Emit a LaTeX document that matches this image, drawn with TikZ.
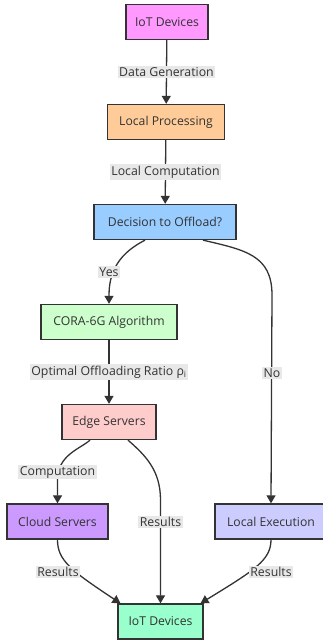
\documentclass[tikz,border=0pt]{standalone}
\usepackage{fontspec}
\setmainfont{Open Sans}
\usetikzlibrary{arrows.meta}
\definecolor{txt}{HTML}{333333}
\definecolor{lblbg}{HTML}{E8E8E8}
\begin{document}
\begin{tikzpicture}[x=1pt,y=1pt,
  box/.style={draw=txt, line width=1.3pt, minimum height=35pt, inner sep=0pt, text=txt, font=\fontsize{12.2}{14}\selectfont},
  lbl/.style={fill=lblbg, text=txt, inner sep=1.5pt, font=\fontsize{12.3}{14}\selectfont},
  arr/.style={draw=txt, line width=1.3pt, -{Triangle[length=8pt,width=9pt]}}]
\useasboundingbox (0,0) rectangle (323,640);
\node[box, fill={rgb,255:red,255;green,153;blue,255}, minimum width=82pt] (iot1) at (167,618) {IoT Devices};
\node[box, fill={rgb,255:red,255;green,204;blue,153}, minimum width=117pt] (lp) at (166,518) {Local Processing};
\node[box, fill={rgb,255:red,153;green,204;blue,255}, minimum width=142pt] (dec) at (165,418) {Decision to Offload?};
\node[box, fill={rgb,255:red,204;green,255;blue,204}, minimum width=136pt] (cora) at (109,318) {CORA-6G Algorithm};
\node[box, fill={rgb,255:red,255;green,204;blue,204}, minimum width=94pt] (edge) at (109,218) {Edge Servers};
\node[box, fill={rgb,255:red,204;green,153;blue,255}, minimum width=101pt] (cloud) at (57.5,118.5) {Cloud Servers};
\node[box, fill={rgb,255:red,204;green,204;blue,255}, minimum width=112pt] (lexe) at (271,118.5) {Local Execution};
\node[box, fill={rgb,255:red,153;green,255;blue,204}, minimum width=85pt] (iot2) at (160.5,18.5) {IoT Devices};

\coordinate (d1) at ([xshift=-20pt]dec.south);
\coordinate (d2) at ([xshift=38pt]dec.south);
\coordinate (e1) at ([xshift=-19pt]edge.south);
\coordinate (e2) at ([xshift=19pt]edge.south);
\coordinate (c1) at ([xshift=-40pt]iot2.north);
\coordinate (c2) at ([xshift=40pt]iot2.north);
\coordinate (k1) at (109,345);
\coordinate (k2) at (272,345);
\coordinate (k3) at (57.5,160);
\coordinate (k4) at (160.5,140);

\draw[arr] (iot1) -- (lp) node[lbl, pos=0.5] (l1) {Data Generation};
\draw[arr] (lp) -- (dec) node[lbl, pos=0.5] (l2) {Local Computation};
\draw[arr] (d1) .. controls (126,390) and (109,375) .. (k1) -- (cora.north);
\node[lbl] (l3) at (109,368) {Yes};
\draw[arr] (cora) -- (edge) node[lbl, pos=0.5] (l4) {Optimal Offloading Ratio ρ\textsubscript{i}};
\draw[arr] (d2) .. controls (245,390) and (272,385) .. (k2) -- (lexe.north);
\node[lbl] (l5) at (272,267) {No};
\draw[arr] (e1) .. controls (80,191) and (57.5,185) .. (k3) -- (cloud.north);
\node[lbl] (l6) at (57.5,168) {Computation};
\draw[arr] (e2) .. controls (145,185) and (160.5,170) .. (k4) -- (iot2.north);
\node[lbl] (l7) at (160.5,118) {Results};
\draw[arr] (cloud.south) .. controls (57.5,80) and (70,70) .. (c1);
\node[lbl] (l8) at (58,68) {Results};
\draw[arr] (lexe.south) .. controls (271,80) and (255,70) .. (c2);
\node[lbl] (l9) at (271,68) {Results};
\end{tikzpicture}
\end{document}
